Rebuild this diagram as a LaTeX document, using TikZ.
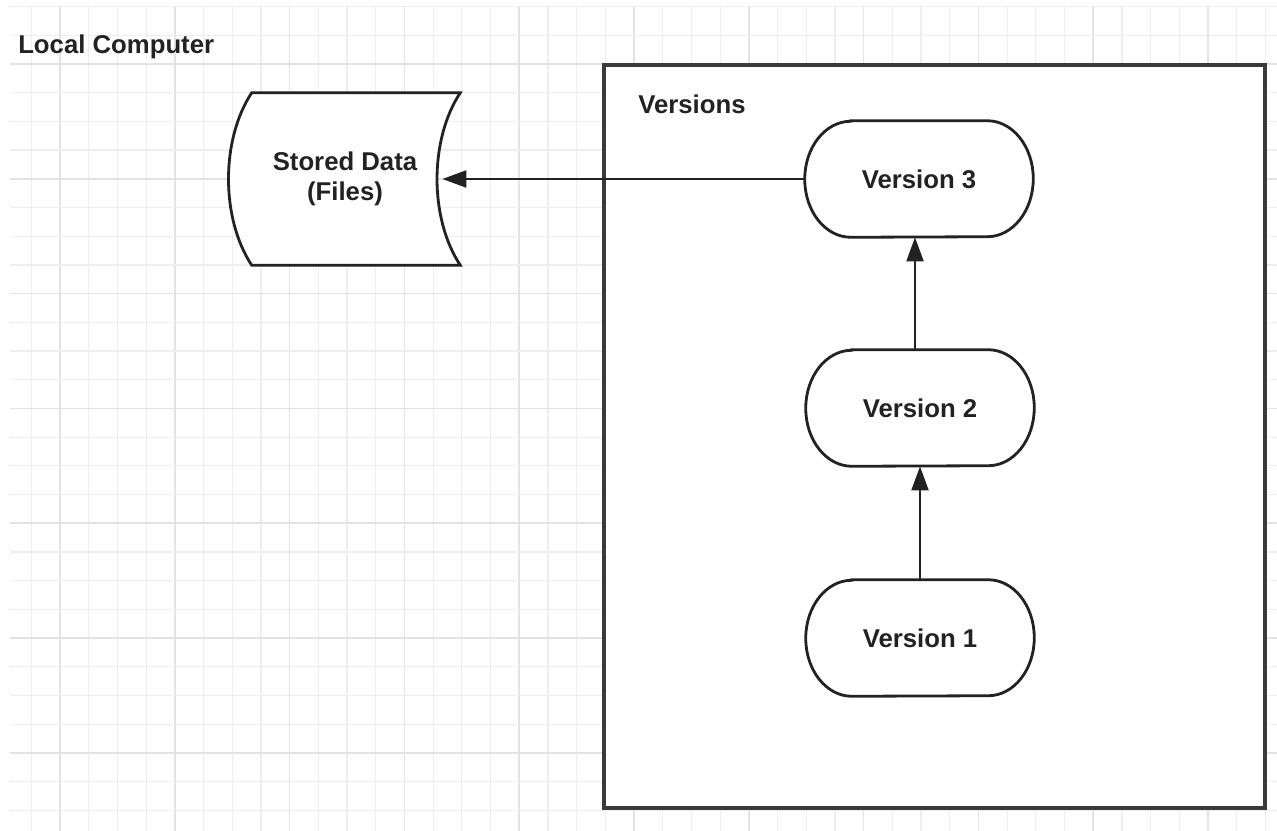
\documentclass[tikz,border=0pt]{standalone}
\usepackage{fontspec}
\setmainfont{Liberation Sans}
\usetikzlibrary{arrows.meta}
\definecolor{gridminor}{HTML}{EEEEEE}
\definecolor{gridmajor}{HTML}{E3E3E3}
\definecolor{ink}{HTML}{222222}
\definecolor{frame}{HTML}{3A3A3A}
% One unit = one pixel of the drawing, y grows downwards
\tikzset{
  px/.style={x=0.75pt,y=-0.75pt},
  title/.style={font=\bfseries\fontsize{19.3}{23}\selectfont, text=ink, inner sep=0pt},
  shapebox/.style={draw=none, inner sep=0pt, font=\bfseries\fontsize{19.3}{22.5}\selectfont, text=ink, align=center},
  outline/.style={draw=ink, line width=2.1pt, fill=white},
  flow/.style={draw=ink, line width=2.2pt, -{Triangle[length=18pt,width=12.5pt]}},
}
% Pill outline with elliptical ends, drawn round a named node
\newcommand\pilloutline[1]{%
  \path[outline] ([xshift=34.5pt]#1.north west) -- ([xshift=-34.5pt]#1.north east)
    arc[start angle=90,end angle=-90,x radius=34.5pt,y radius=43.5pt]
    -- ([xshift=34.5pt]#1.south west)
    arc[start angle=270,end angle=90,x radius=34.5pt,y radius=43.5pt] -- cycle;}
\begin{document}
\begin{tikzpicture}[px]
  \useasboundingbox (0,0) rectangle (1277,831);
  \fill[white] (0,0) rectangle (1277,831);

  % background grid
  \foreach \k in {-1,...,42}{
    \pgfmathtruncatemacro\m{mod(\k+4,4)}
    \pgfmathsetmacro\gx{60+28.7*\k}
    \ifnum\m=0
      \draw[gridmajor, line width=1.1pt] (\gx,6.6) -- (\gx,831);
    \else
      \draw[gridminor, line width=0.9pt] (\gx,6.6) -- (\gx,831);
    \fi
  }
  \foreach \k in {-2,...,26}{
    \pgfmathtruncatemacro\m{mod(\k+8,4)}
    \pgfmathsetmacro\gy{64+28.7*\k}
    \ifnum\m=0
      \draw[gridmajor, line width=1.1pt] (10,\gy) -- (1277,\gy);
    \else
      \draw[gridminor, line width=0.9pt] (10,\gy) -- (1277,\gy);
    \fi
  }

  \node[title, anchor=west] (local) at (18,47) {Local Computer};

  % versions container
  \node[draw=frame, fill=white, line width=2.4pt, minimum width=495.75pt, minimum height=557.25pt, inner sep=0pt] (box) at (934.5,436.5) {};
  \node[title, anchor=west] (versions) at (638,104) {Versions};

  % stored data
  \node[shapebox, minimum width=172.5pt, minimum height=129pt] (sd) at (345,179) {};
  \path[outline] ([xshift=16.5pt]sd.north west) -- (sd.north east)
    .. controls ([xshift=-23.25pt,yshift=-35.25pt]sd.north east) and ([xshift=-23.25pt,yshift=35.25pt]sd.south east) .. (sd.south east)
    -- ([xshift=16.5pt]sd.south west)
    .. controls ([xshift=-6.75pt,yshift=35.25pt]sd.south west) and ([xshift=-6.75pt,yshift=-35.25pt]sd.north west) .. cycle;
  \node[shapebox] at (sd.center) {Stored Data\\(Files)};
  \coordinate (sdport) at ([xshift=-13.5pt]sd.east);

  % versions
  \foreach \n/\cx/\cy/\t in {v3/919/179/Version 3, v2/920/408/Version 2, v1/920/638/Version 1}{
    \node[shapebox, minimum width=171pt, minimum height=87pt] (\n) at (\cx,\cy) {};
    \pilloutline{\n}
    \node[shapebox] at (\n.center) {\t};
  }

  % connectors
  \draw[flow] (v3.west) -- (sdport);
  \draw[flow] (v1.north) -- (v2.south);
  \draw[flow] ([xshift=-3.75pt]v2.north) -- ([xshift=-3pt]v3.south);
\end{tikzpicture}
\end{document}
